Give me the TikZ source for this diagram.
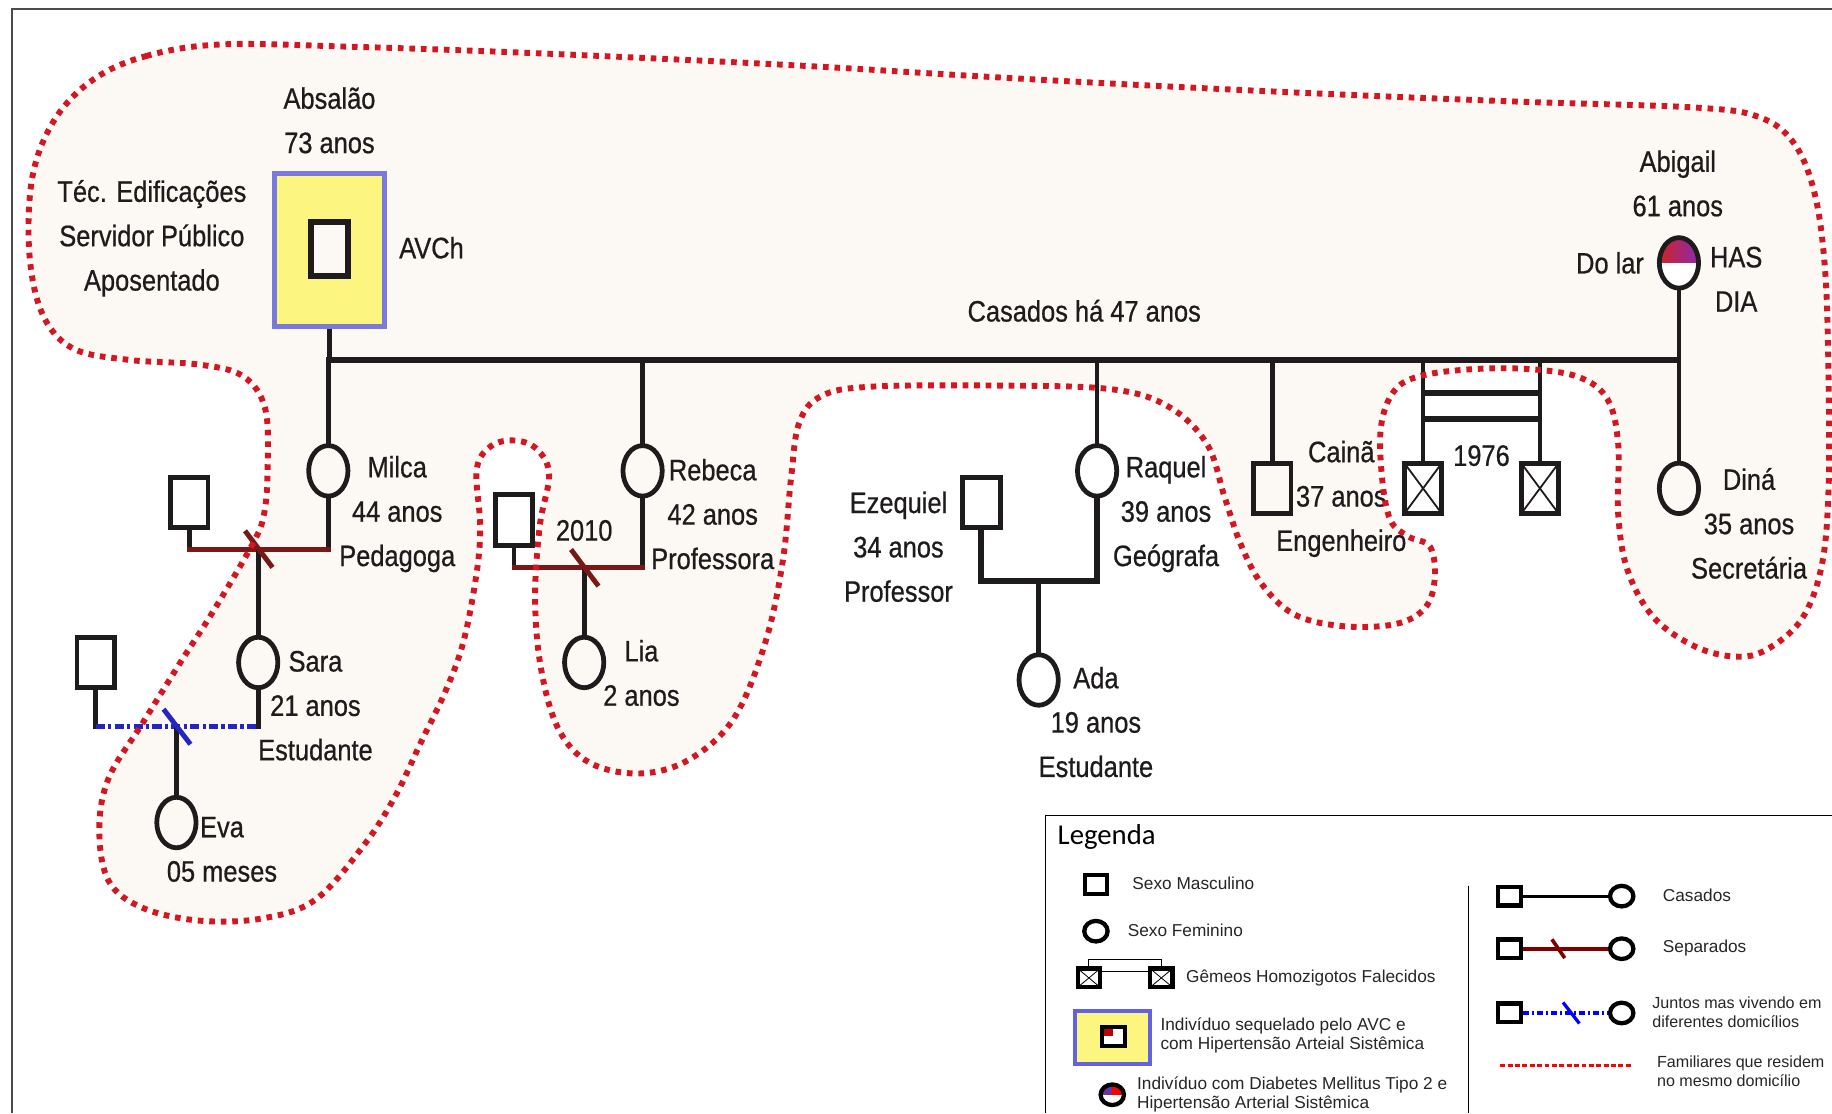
\documentclass[tikz,border=0pt]{standalone}
\usepackage{fontspec}
\setmainfont{Liberation Sans}
\newfontfamily\pedfont{Liberation Sans}[FakeStretch=0.86, FakeBold=0.6]
\newfontfamily\legfont{Liberation Sans}
\newfontfamily\legtitlefont{Carlito}
\usetikzlibrary{shapes.geometric}
\usetikzlibrary{positioning}
\usetikzlibrary{calc}
\definecolor{ink}{RGB}{30,27,28}
\definecolor{dotred}{RGB}{212,22,34}
\definecolor{homebg}{RGB}{252,248,243}
\definecolor{avcyellow}{RGB}{252,245,128}
\definecolor{avcblue}{RGB}{122,122,222}
\definecolor{sepred}{RGB}{122,24,24}
\definecolor{apartblue}{RGB}{36,36,196}
\definecolor{abired}{RGB}{205,38,38}
\definecolor{abipurple}{RGB}{140,40,175}
\definecolor{legred}{RGB}{255,0,0}
\definecolor{legdarkred}{RGB}{192,0,0}
\definecolor{legpurple}{RGB}{112,48,160}
\definecolor{legblue}{RGB}{0,0,255}
\definecolor{legsep}{RGB}{128,0,0}

\tikzset{
  male/.style={draw=ink, rectangle, line width=2.9pt, minimum width=0.8cm, minimum height=1.08cm, inner sep=0pt},
  female/.style={draw=ink, ellipse, line width=2.9pt, minimum width=0.84cm, minimum height=1.08cm, inner sep=0pt},
  twin/.style={male, path picture={\draw[ink, line width=1.1pt]
      (path picture bounding box.north west) -- (path picture bounding box.south east)
      (path picture bounding box.north east) -- (path picture bounding box.south west);}},
  avcbox/.style={draw=avcblue, fill=avcyellow, rectangle, line width=3.5pt, minimum width=2.35cm, minimum height=3.27cm, inner sep=0pt},
  marr/.style={draw=ink, line width=3.6pt},
  kid/.style={draw=ink, line width=2.9pt, line cap=rect},
  seprel/.style={draw=sepred, line width=3pt, line cap=rect},
  apartrel/.style={draw=apartblue, line width=3pt, dash pattern=on 5.5pt off 2pt on 2pt off 2pt},
  homefill/.style={fill=homebg},
  homeline/.style={draw=dotred, line width=3.6pt, dash pattern=on 3.4pt off 3.6pt},
  lab/.style={font=\pedfont\fontsize{18}{27}\selectfont, align=center, text=ink, inner sep=1pt},
  % legend
  lmale/.style={draw=black, rectangle, line width=2.6pt, minimum width=0.48cm, minimum height=0.4cm, inner sep=0pt, fill=white},
  lfemale/.style={draw=black, ellipse, line width=2.6pt, minimum width=0.5cm, minimum height=0.44cm, inner sep=0pt, fill=white},
  ltwin/.style={lmale, path picture={\draw[black, line width=0.5pt]
      (path picture bounding box.north west) -- (path picture bounding box.south east)
      (path picture bounding box.north east) -- (path picture bounding box.south west);}},
  lavcbox/.style={draw=avcblue!80!blue, fill=avcyellow, rectangle, line width=2.4pt, minimum width=1.6cm, minimum height=1.12cm, inner sep=0pt},
  legtext/.style={font=\legfont\fontsize{10.5}{11.5}\selectfont, align=left, anchor=west, text=black!85, inner sep=0pt},
  legsmall/.style={legtext, font=\legfont\fontsize{9.8}{11.5}\selectfont},
  legframe/.style={draw=black, line width=0.9pt},
  frameline/.style={draw=black!70, line width=1.3pt}
}

\begin{document}
\begin{tikzpicture}[x=0.025cm, y=-0.025cm]
\useasboundingbox (0,0) rectangle (1568,953);
\clip (0,0) rectangle (1568,953);

%---------------------------------------
% Household outline
%---------------------------------------
\def\homeoutline#1{\path[#1] plot[smooth cycle, tension=0.6] coordinates {
  (80,68) (125,48) (190,38) (300,40) (420,44) (560,50) (700,57) (850,66)
  (1000,74) (1150,81) (1300,87) (1450,92) (1505,100) (1535,122) (1553,165)
  (1562,230) (1565,320) (1565,420) (1559,485) (1542,530) (1512,556) (1485,562)
  (1450,553) (1415,528) (1393,488) (1385,440) (1385,380) (1376,342) (1352,323)
  (1310,316) (1260,316) (1215,322) (1193,335) (1182,365) (1183,410) (1190,445)
  (1205,459) (1224,468) (1228,495) (1220,520) (1195,534) (1150,536) (1108,526)
  (1080,500) (1062,466) (1048,425) (1033,380) (1000,348) (950,333) (850,330)
  (745,331) (703,339) (684,362) (677,410) (670,480) (655,550) (628,615)
  (590,650) (548,662) (505,653) (478,624) (463,572) (458,512) (462,450)
  (470,406) (459,384) (440,377) (420,382) (408,402) (411,450) (408,490)
  (397,548) (382,590) (360,636) (338,682) (311,724) (270,770) (225,786)
  (171,788) (122,777) (93,754) (85,710) (93,666) (122,619) (155,566)
  (182,524) (216,466) (226,440) (229,402) (227,350) (208,322) (170,312)
  (110,308) (62,298) (36,268) (25,215) (28,150) (47,102)};}
\homeoutline{homefill}

% frame
\draw[frameline] (10,953) -- (10,8) -- (1568,8);

%---------------------------------------
% Persons
%---------------------------------------
\node[avcbox] (absalaobox) at (282,214) {};
\node[male, fill=homebg, line width=3.5pt, minimum width=0.78cm, minimum height=1.15cm] (absalao) at (282,213) {};
\node[female, fill=white, path picture={\shade[left color=abired, right color=abipurple]
  (path picture bounding box.north west) rectangle (path picture bounding box.east);}] (abigail) at (1437,225) {};

\node[female] (milca) at (281,403) {};
\node[male] (milcaex) at (162,430) {};
\node[female] (sara) at (221,567) {};
\node[male] (saraex) at (82,567) {};
\node[female] (eva) at (151,704) {};

\node[female] (rebeca) at (550,403) {};
\node[male] (rebecaex) at (440,445) {};
\node[female] (lia) at (500,567) {};

\node[female] (raquel) at (939,403) {};
\node[male] (ezequiel) at (840,430) {};
\node[female] (ada) at (889,582) {};

\node[male] (caina) at (1089,418) {};
\node[twin] (twinA) at (1218,418) {};
\node[twin] (twinB) at (1318,418) {};
\node[female] (dina) at (1437,418) {};

%---------------------------------------
% Relations
%---------------------------------------
\coordinate (marrL) at (282,308);
\coordinate (marrR) at (1437,308);
\draw[marr] (absalaobox.south) -- (marrL) -- (marrR);
\draw[kid] (abigail.south) -- (dina.north);
\foreach \k in {milca,rebeca,raquel,caina,twinA,twinB}
  \draw[kid] (\k.north) -- (\k.north |- marrL);
\draw[marr] ($(twinA.north |- marrL)+(0,28)$) -- ($(twinB.north |- marrL)+(0,28)$);
\draw[marr] ($(twinA.north |- marrL)+(0,51)$) -- ($(twinB.north |- marrL)+(0,51)$);

% Milca separated
\coordinate (milcaknot) at (221,470);
\draw[kid] (milcaex.south) -- (milcaex.south |- milcaknot);
\draw[kid] (milca.south) -- (milca.south |- milcaknot);
\draw[seprel] (milcaex.south |- milcaknot) -- (milca.south |- milcaknot);
\draw[kid] (milcaknot) -- (sara.north);
\draw[seprel] ($(milcaknot)+(-10,-14)$) -- ($(milcaknot)+(11,14)$);

% Sara apart
\coordinate (saraknot) at (151,622);
\draw[kid] (saraex.south) -- (saraex.south |- saraknot);
\draw[kid] (sara.south) -- (sara.south |- saraknot);
\draw[apartrel] (saraex.south |- saraknot) -- (sara.south |- saraknot);
\draw[kid] (saraknot) -- (eva.north);
\draw[apartrel, solid] ($(saraknot)+(-11,-15)$) -- ($(saraknot)+(12,15)$);

% Rebeca separated
\coordinate (rebecaknot) at (500,486);
\draw[kid] (rebecaex.south) -- (rebecaex.south |- rebecaknot);
\draw[kid] (rebeca.south) -- (rebeca.south |- rebecaknot);
\draw[seprel] (rebecaex.south |- rebecaknot) -- (rebeca.south |- rebecaknot);
\draw[kid] (rebecaknot) -- (lia.north);
\draw[seprel] ($(rebecaknot)+(-10,-14)$) -- ($(rebecaknot)+(11,14)$);

% Raquel and Ezequiel
\coordinate (raquelknot) at (889,497);
\draw[marr] (ezequiel.south) |- (raquelknot) -| (raquel.south);
\draw[kid] (raquelknot) -- (ada.north);

%---------------------------------------
% Labels
%---------------------------------------
\node[lab] (absalaolab) at (282,103) {Absalão\\73 anos};
\node[lab] (teclab) at (130,204) {Téc. Edificações\\Servidor Público\\Aposentado};
\node[lab, anchor=west] (avchlab) at (340,212) {AVCh};
\node[lab] (casadoslab) at (928,266) {Casados há 47 anos};
\node[lab] (abigaillab) at (1436,157) {Abigail\\61 anos};
\node[lab] (dolarlab) at (1378,225) {Do lar};
\node[lab] (haslab) at (1486,239) {HAS\\DIA};
\node[lab] (milcalab) at (340,440) {Milca\\44 anos\\Pedagoga};
\node[lab] (saralab) at (270,604) {Sara\\21 anos\\Estudante};
\node[lab] (evalab) at (190,727) {Eva\\05 meses};
\node[lab] (rebecalab) at (610,440) {Rebeca\\42 anos\\Professora};
\node[lab] (lab2010) at (500,454) {2010};
\node[lab] (lialab) at (549,576) {Lia\\2 anos};
\node[lab] (ezequiellab) at (769,468) {Ezequiel\\34 anos\\Professor};
\node[lab] (raquellab) at (998,440) {Raquel\\39 anos\\Geógrafa};
\node[lab] (adalab) at (938,618) {Ada\\19 anos\\Estudante};
\node[lab] (cainalab) at (1148,427) {Cainã\\37 anos\\Engenheiro};
\node[lab] (lab1976) at (1268,390) {1976};
\node[lab] (dinalab) at (1497,448) {Diná\\35 anos\\Secretária};

\homeoutline{homeline}

%---------------------------------------
% Legend
%---------------------------------------
\fill[white] (895,698) rectangle (1568,953);
\draw[legframe] (895,953) -- (895,698) -- (1568,698);
\node[anchor=west, inner sep=0pt, font=\legtitlefont\fontsize{17.5}{19}\selectfont] (legtitle) at (905,716) {Legenda};
\draw[legframe] (1257,758) -- (1257,953);

\node[lmale] (lgmale) at (938,757) {};
\node[legtext] (lgmaletxt) at (969,756) {Sexo Masculino};
\node[lfemale] (lgfemale) at (938,797) {};
\node[legtext] (lgfemaletxt) at (965,796) {Sexo Feminino};
\node[ltwin] (lgtwinA) at (932,837) {};
\node[ltwin] (lgtwinB) at (994,837) {};
\draw[black, line width=0.6pt] (lgtwinA.north) -- ++(0,-6) -| (lgtwinB.north);
\draw[black, line width=0.6pt] ($(lgtwinA.north east)+(0,4)$) -- ($(lgtwinB.north west)+(0,4)$);
\node[legtext] (lgtwintxt) at (1015,837) {Gêmeos Homozigotos Falecidos};
\node[lavcbox] (lgavcbox) at (952,888) {};
\node[lmale, path picture={\fill[legdarkred] (path picture bounding box.north west) rectangle (path picture bounding box.center);}] (lgavc) at (953,887) {};
\node[legtext] (lgavctxt) at (993,886) {Indivíduo sequelado pelo AVC e\\com Hipertensão Arteial Sistêmica};
\node[lfemale, path picture={\fill[legpurple] (path picture bounding box.north west) rectangle (path picture bounding box.center);
  \fill[legred] (path picture bounding box.north) rectangle (path picture bounding box.east);}] (lgdm) at (952,937) {};
\node[legtext] (lgdmtxt) at (973,937) {Indivíduo com Diabetes Mellitus Tipo 2 e\\Hipertensão Arterial Sistêmica};

\node[lmale] (lgcasM) at (1292,767) {};
\node[lfemale] (lgcasF) at (1388,767) {};
\draw[black, line width=1.8pt] (lgcasM) -- (lgcasF);
\node[legtext] (lgcastxt) at (1423,766) {Casados};

\node[lmale] (lgsepM) at (1292,812) {};
\node[lfemale] (lgsepF) at (1388,812) {};
\draw[legsep, line width=2.2pt] (lgsepM) -- (lgsepF);
\draw[legsep, line width=2.2pt] ($(lgsepM)!0.43!(lgsepF)+(-5,-8)$) -- ++(11,16);
\node[legtext] (lgseptxt) at (1423,811) {Separados};

\node[lmale] (lgjunM) at (1292,867) {};
\node[lfemale] (lgjunF) at (1388,867) {};
\draw[legblue, line width=2pt, dash pattern=on 4pt off 1.5pt on 1.5pt off 1.5pt] (lgjunM) -- (lgjunF);
\draw[legblue, line width=2pt] ($(lgjunM)!0.55!(lgjunF)+(-7,-9)$) -- ++(14,18);
\node[legsmall] (lgjuntxt) at (1414,866) {Juntos mas vivendo em\\diferentes domicílios};

\coordinate (lghomeA) at (1284,912);
\coordinate (lghomeB) at (1397,912);
\draw[legred, line width=1.6pt, dash pattern=on 3pt off 1.5pt] (lghomeA) -- (lghomeB);
\node[legsmall] (lghometxt) at (1418,917) {Familiares que residem\\no mesmo domicílio};

\end{tikzpicture}
\end{document}
